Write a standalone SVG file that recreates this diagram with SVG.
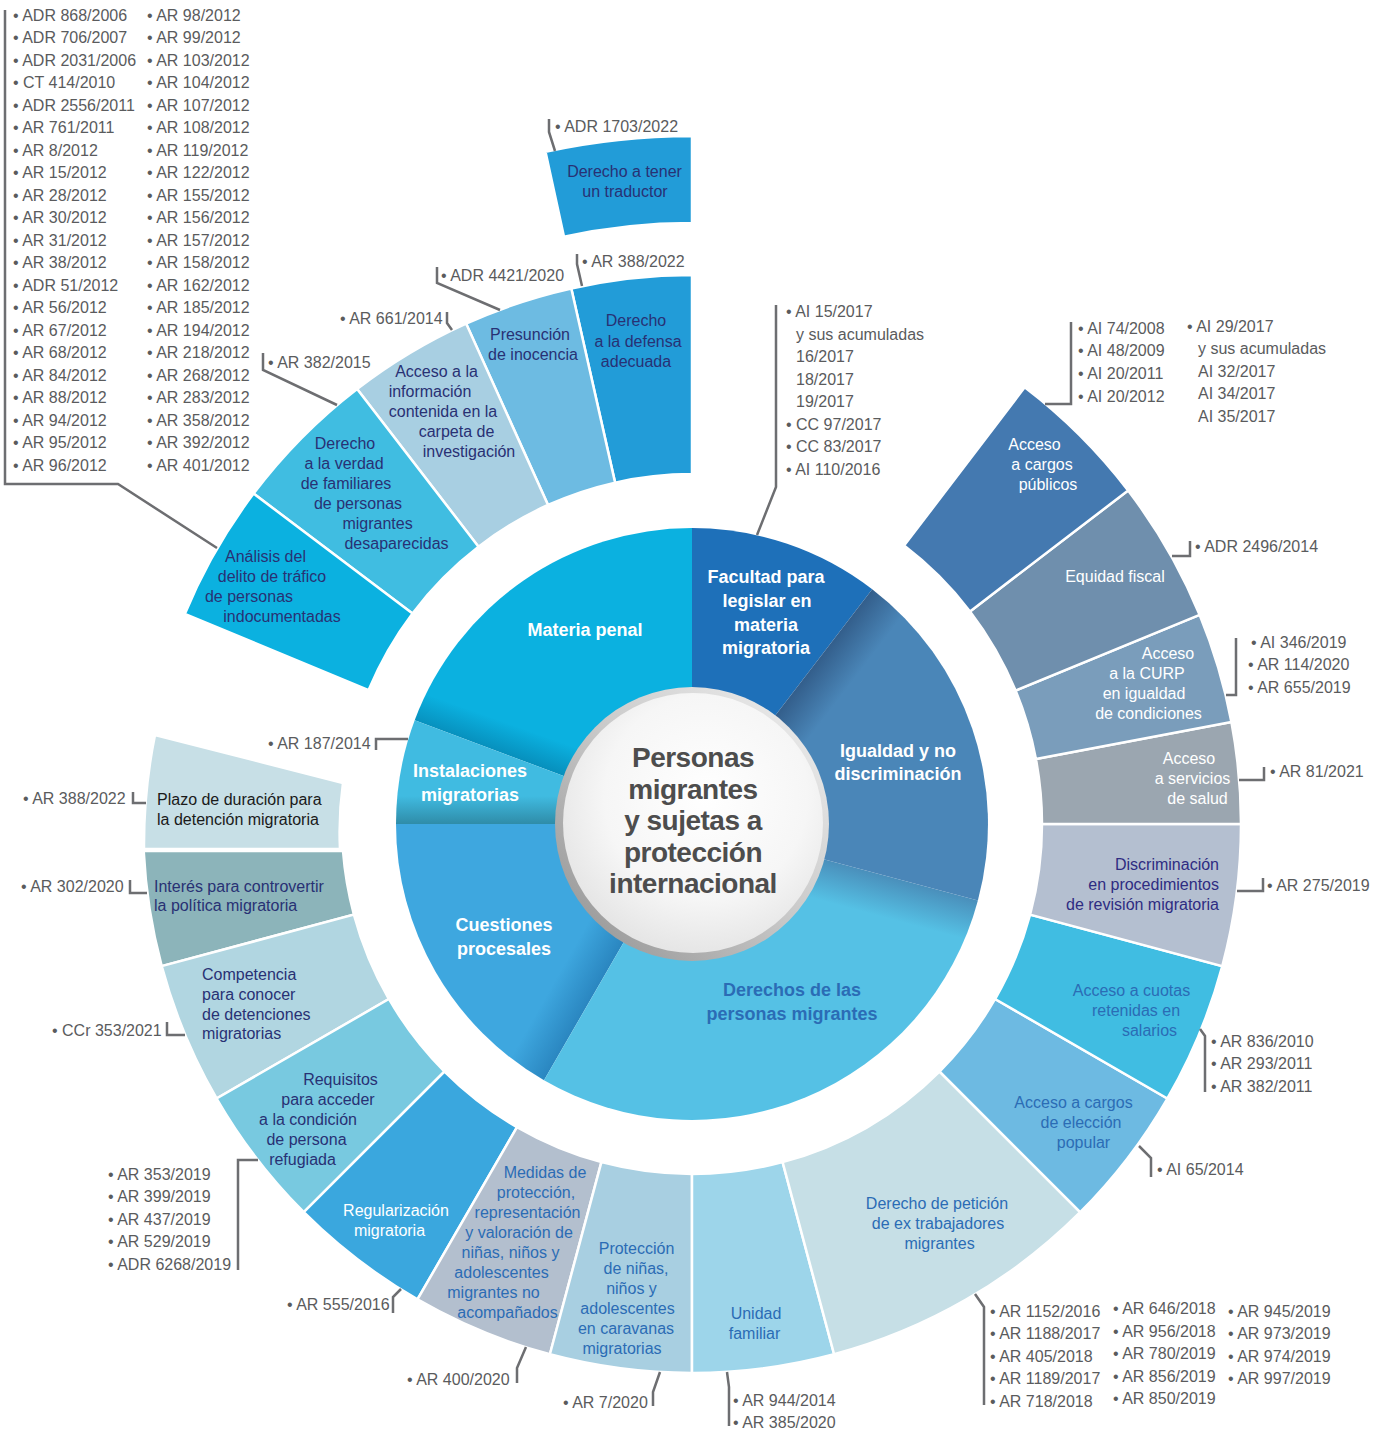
<svg xmlns="http://www.w3.org/2000/svg" width="1373" height="1431" viewBox="0 0 1373 1431">
<style>
.seg{stroke:#fff;stroke-width:2.5}
.lbl{font-family:'Liberation Sans',Arial,sans-serif;font-size:16px;text-anchor:middle}
.lft{font-family:'Liberation Sans',Arial,sans-serif;font-size:16px}
.ref{font-family:'Liberation Sans',Arial,sans-serif;font-size:16px;fill:#5a5b5d}
.in{font-family:'Liberation Sans',Arial,sans-serif;font-size:18px;font-weight:bold;text-anchor:middle;fill:#fff}
.ld{fill:none;stroke:#6d6e71;stroke-width:2.5}
.navy{fill:#283174}.blue{fill:#2b6cb5}.wht{fill:#fff}.ind{fill:#2e2c82}.blk{fill:#1a1a1a}
</style>
<defs>
<linearGradient id="gIg" gradientUnits="userSpaceOnUse" x1="826" y1="649.5" x2="858" y2="674"><stop offset="0" stop-color="#335e8b"/><stop offset="1" stop-color="#4a86b8"/></linearGradient>
<linearGradient id="gDe" gradientUnits="userSpaceOnUse" x1="904.5" y1="881" x2="894" y2="920"><stop offset="0" stop-color="#4a8fbb"/><stop offset="1" stop-color="#55c1e5"/></linearGradient>
<linearGradient id="gCu" gradientUnits="userSpaceOnUse" x1="582" y1="1014.5" x2="547" y2="994.5"><stop offset="0" stop-color="#2a86c0"/><stop offset="1" stop-color="#3ea7df"/></linearGradient>
<linearGradient id="gMa" gradientUnits="userSpaceOnUse" x1="486" y1="747" x2="496" y2="719"><stop offset="0" stop-color="#0790bd"/><stop offset="1" stop-color="#0bb1e0"/></linearGradient>
<linearGradient id="gIn" gradientUnits="userSpaceOnUse" x1="0" y1="824" x2="0" y2="796"><stop offset="0" stop-color="#2f8ca8"/><stop offset="1" stop-color="#40bbe1"/></linearGradient>
<linearGradient id="gRing" x1="0" y1="1" x2="1" y2="0"><stop offset="0" stop-color="#8e8e8e"/><stop offset="0.5" stop-color="#c8c8c8"/><stop offset="1" stop-color="#f2f2f2"/></linearGradient>
<radialGradient id="gDisc" cx="0.55" cy="0.4" r="0.65"><stop offset="0" stop-color="#ffffff"/><stop offset="0.6" stop-color="#f6f6f6"/><stop offset="1" stop-color="#e2e2e2"/></radialGradient>
</defs>
<rect width="1373" height="1431" fill="#fff"/>

<g id="inner-ring">
<g id="n-facultad"><path d="M692 824 L872.2 589.2 A296 296 0 0 0 692 528 Z" fill="#1e70b9"/>
<text class="in"><tspan x="766" y="583.4">Facultad para</tspan><tspan x="767" y="607.4">legislar en</tspan><tspan x="766" y="631.4">materia</tspan><tspan x="766" y="654.4">migratoria</tspan></text></g>
<g id="n-materia"><path d="M692 824 L692 528 A296 296 0 0 0 414.7 720.3 Z" fill="url(#gMa)"/>
<text class="in" x="585" y="636.4">Materia penal</text></g>
<g id="n-instalaciones"><path d="M692 824 L414.7 720.3 A296 296 0 0 0 396 824 Z" fill="url(#gIn)"/>
<text class="in"><tspan x="470" y="777.4">Instalaciones</tspan><tspan x="470" y="801.4">migratorias</tspan></text></g>
<g id="n-cuestiones"><path d="M692 824 L396 824 A296 296 0 0 0 544 1080.3 Z" fill="url(#gCu)"/>
<text class="in"><tspan x="504" y="931.4">Cuestiones</tspan><tspan x="504" y="955.4">procesales</tspan></text></g>
<g id="n-derechos"><path d="M692 824 L544 1080.3 A296 296 0 0 0 977.9 900.6 Z" fill="url(#gDe)"/>
<text class="in" style="fill:#2b6cb5"><tspan x="792" y="996.4">Derechos de las</tspan><tspan x="792" y="1020.4">personas migrantes</tspan></text></g>
<g id="n-igualdad"><path d="M692 824 L977.9 900.6 A296 296 0 0 0 872.2 589.2 Z" fill="url(#gIg)"/>
<text class="in"><tspan x="898" y="757.4">Igualdad y no</tspan><tspan x="898" y="780.4">discriminación</tspan></text></g>
</g>

<g id="n-center">
<circle cx="692" cy="824" r="137" fill="url(#gRing)"/>
<circle cx="693" cy="823" r="130" fill="url(#gDisc)"/>
<text font-family="'Liberation Sans',Arial,sans-serif" font-size="28" font-weight="bold" fill="#4d4d4d" text-anchor="middle" letter-spacing="-0.5"><tspan x="693" y="767">Personas</tspan><tspan x="693" y="799">migrantes</tspan><tspan x="693" y="830">y sujetas a</tspan><tspan x="693" y="862">protección</tspan><tspan x="693" y="893">internacional</tspan></text>
</g>

<g id="outer-ring">
<g id="n-traductor"><path class="seg" d="M692 136 A688 688 0 0 0 545.5 151.8 L564 236.8 A601 601 0 0 1 692 223 Z" fill="#229cd8"/>
<text class="lbl navy"><tspan x="624.5" y="176.7">Derecho a tener</tspan><tspan x="625" y="196.7">un traductor</tspan></text>
<text class="ref" x="555" y="131.7">• ADR 1703/2022</text></g>

<g id="n-defensa"><path class="seg" d="M692 275 A549 549 0 0 0 571.3 288.5 L615.1 482.6 A350 350 0 0 1 692 474 Z" fill="#229cd8"/>
<text class="lbl navy"><tspan x="636" y="325.7">Derecho</tspan><tspan x="638" y="346.7">a la defensa</tspan><tspan x="636" y="366.7">adecuada</tspan></text>
<text class="ref" x="582" y="266.7">• AR 388/2022</text></g>

<g id="n-presuncion"><path class="seg" d="M571.3 288.5 A549 549 0 0 0 466.1 323.6 L548 505 A350 350 0 0 1 615.1 482.6 Z" fill="#6dbbe2"/>
<text class="lbl navy"><tspan x="530" y="339.7">Presunción</tspan><tspan x="533" y="359.7">de inocencia</tspan></text>
<text class="ref" x="441" y="280.7">• ADR 4421/2020</text></g>

<g id="n-acceso-info"><path class="seg" d="M466.1 323.6 A549 549 0 0 0 357.1 389 L478.5 546.7 A350 350 0 0 1 548 505 Z" fill="#a8cfe2"/>
<text class="lbl navy"><tspan x="436.5" y="376.7">Acceso a la</tspan><tspan x="430" y="396.7">información</tspan><tspan x="443" y="416.7">contenida en la</tspan><tspan x="456.5" y="436.7">carpeta de</tspan><tspan x="469" y="456.7">investigación</tspan></text>
<text class="ref" x="340" y="323.7">• AR 661/2014</text></g>

<g id="n-verdad"><path class="seg" d="M357.1 389 A549 549 0 0 0 253.6 493.6 L412.5 613.4 A350 350 0 0 1 478.5 546.7 Z" fill="#40bde1"/>
<text class="lbl navy"><tspan x="345" y="448.7">Derecho</tspan><tspan x="344" y="468.7">a la verdad</tspan><tspan x="346" y="488.7">de familiares</tspan><tspan x="358" y="508.7">de personas</tspan><tspan x="377.5" y="528.7">migrantes</tspan><tspan x="396.5" y="548.7">desaparecidas</tspan></text>
<text class="ref" x="268" y="367.7">• AR 382/2015</text></g>

<g id="n-analisis"><path class="seg" d="M253.6 493.6 A549 549 0 0 0 184.8 613.9 L368.6 690.1 A350 350 0 0 1 412.5 613.4 Z" fill="#0bb1e0"/>
<text class="lbl navy"><tspan x="265.5" y="561.7">Análisis del</tspan><tspan x="272" y="581.7">delito de tráfico</tspan><tspan x="249" y="601.7">de personas</tspan><tspan x="282" y="621.7">indocumentadas</tspan></text>
<text class="ref"><tspan x="13" y="20.7">• ADR 868/2006</tspan><tspan x="13" y="43.2">• ADR 706/2007</tspan><tspan x="13" y="65.7">• ADR 2031/2006</tspan><tspan x="13" y="88.2">• CT 414/2010</tspan><tspan x="13" y="110.7">• ADR 2556/2011</tspan><tspan x="13" y="133.2">• AR 761/2011</tspan><tspan x="13" y="155.7">• AR 8/2012</tspan><tspan x="13" y="178.2">• AR 15/2012</tspan><tspan x="13" y="200.7">• AR 28/2012</tspan><tspan x="13" y="223.2">• AR 30/2012</tspan><tspan x="13" y="245.7">• AR 31/2012</tspan><tspan x="13" y="268.2">• AR 38/2012</tspan><tspan x="13" y="290.7">• ADR 51/2012</tspan><tspan x="13" y="313.2">• AR 56/2012</tspan><tspan x="13" y="335.7">• AR 67/2012</tspan><tspan x="13" y="358.2">• AR 68/2012</tspan><tspan x="13" y="380.7">• AR 84/2012</tspan><tspan x="13" y="403.2">• AR 88/2012</tspan><tspan x="13" y="425.7">• AR 94/2012</tspan><tspan x="13" y="448.2">• AR 95/2012</tspan><tspan x="13" y="470.7">• AR 96/2012</tspan></text>
<text class="ref"><tspan x="147" y="20.7">• AR 98/2012</tspan><tspan x="147" y="43.2">• AR 99/2012</tspan><tspan x="147" y="65.7">• AR 103/2012</tspan><tspan x="147" y="88.2">• AR 104/2012</tspan><tspan x="147" y="110.7">• AR 107/2012</tspan><tspan x="147" y="133.2">• AR 108/2012</tspan><tspan x="147" y="155.7">• AR 119/2012</tspan><tspan x="147" y="178.2">• AR 122/2012</tspan><tspan x="147" y="200.7">• AR 155/2012</tspan><tspan x="147" y="223.2">• AR 156/2012</tspan><tspan x="147" y="245.7">• AR 157/2012</tspan><tspan x="147" y="268.2">• AR 158/2012</tspan><tspan x="147" y="290.7">• AR 162/2012</tspan><tspan x="147" y="313.2">• AR 185/2012</tspan><tspan x="147" y="335.7">• AR 194/2012</tspan><tspan x="147" y="358.2">• AR 218/2012</tspan><tspan x="147" y="380.7">• AR 268/2012</tspan><tspan x="147" y="403.2">• AR 283/2012</tspan><tspan x="147" y="425.7">• AR 358/2012</tspan><tspan x="147" y="448.2">• AR 392/2012</tspan><tspan x="147" y="470.7">• AR 401/2012</tspan></text></g>

<g id="n-plazo"><path class="seg" d="M155 735 A549 549 0 0 0 144 849 L340 849 A352 352 0 0 1 343 783 Z" fill="#c7dfe6"/>
<text class="lft blk"><tspan x="157" y="804.7">Plazo de duración para</tspan><tspan x="157" y="824.7">la detención migratoria</tspan></text>
<text class="ref" x="23" y="803.7">• AR 388/2022</text></g>

<g id="n-interes"><path class="seg" d="M143.7 851 A549 549 0 0 0 161.7 966.1 L353.9 914.6 A350 350 0 0 1 343 851 Z" fill="#8cb4ba"/>
<text class="lft navy"><tspan x="154" y="891.7">Interés para controvertir</tspan><tspan x="154" y="910.7">la política migratoria</tspan></text>
<text class="ref" x="21" y="891.7">• AR 302/2020</text></g>

<g id="n-competencia"><path class="seg" d="M161.7 966.1 A549 549 0 0 0 216.6 1098.5 L388.9 999 A350 350 0 0 1 353.9 914.6 Z" fill="#b1d6e1"/>
<text class="lft navy"><tspan x="202" y="979.7">Competencia</tspan><tspan x="202" y="999.7">para conocer</tspan><tspan x="202" y="1019.7">de detenciones</tspan><tspan x="202" y="1038.7">migratorias</tspan></text>
<text class="ref" x="52" y="1035.7">• CCr 353/2021</text></g>

<g id="n-requisitos"><path class="seg" d="M216.6 1098.5 A549 549 0 0 0 303.8 1212.2 L444.5 1071.5 A350 350 0 0 1 388.9 999 Z" fill="#78c9e0"/>
<text class="lbl navy"><tspan x="340.5" y="1084.7">Requisitos</tspan><tspan x="328" y="1104.7">para acceder</tspan><tspan x="308" y="1124.7">a la condición</tspan><tspan x="306.5" y="1144.7">de persona</tspan><tspan x="302.5" y="1164.7">refugiada</tspan></text>
<text class="ref"><tspan x="108" y="1179.7">• AR 353/2019</tspan><tspan x="108" y="1201.7">• AR 399/2019</tspan><tspan x="108" y="1224.7">• AR 437/2019</tspan><tspan x="108" y="1246.7">• AR 529/2019</tspan><tspan x="108" y="1269.7">• ADR 6268/2019</tspan></text></g>

<g id="n-regularizacion"><path class="seg" d="M303.8 1212.2 A549 549 0 0 0 417.5 1299.4 L517 1127.1 A350 350 0 0 1 444.5 1071.5 Z" fill="#3aa7de"/>
<text class="lbl wht"><tspan x="396" y="1215.7">Regularización</tspan><tspan x="389.5" y="1235.7">migratoria</tspan></text>
<text class="ref" x="287" y="1309.7">• AR 555/2016</text></g>

<g id="n-medidas"><path class="seg" d="M417.5 1299.4 A549 549 0 0 0 549.9 1354.3 L601.4 1162.1 A350 350 0 0 1 517 1127.1 Z" fill="#b3bfce"/>
<text class="lbl blue"><tspan x="545" y="1177.7">Medidas de</tspan><tspan x="536" y="1197.7">protección,</tspan><tspan x="527.5" y="1217.7">representación</tspan><tspan x="519" y="1237.7">y valoración de</tspan><tspan x="510.5" y="1257.7">niñas, niños y</tspan><tspan x="501.5" y="1277.7">adolescentes</tspan><tspan x="493.5" y="1297.7">migrantes no</tspan><tspan x="507.5" y="1317.7">acompañados</tspan></text>
<text class="ref" x="407" y="1384.7">• AR 400/2020</text></g>

<g id="n-caravanas"><path class="seg" d="M549.9 1354.3 A549 549 0 0 0 692 1373 L692 1174 A350 350 0 0 1 601.4 1162.1 Z" fill="#a8cfe1"/>
<text class="lbl blue"><tspan x="636.5" y="1253.7">Protección</tspan><tspan x="636" y="1273.7">de niñas,</tspan><tspan x="631.5" y="1293.7">niños y</tspan><tspan x="627.5" y="1313.7">adolescentes</tspan><tspan x="626" y="1333.7">en caravanas</tspan><tspan x="622" y="1353.7">migratorias</tspan></text>
<text class="ref" x="563" y="1407.7">• AR 7/2020</text></g>

<g id="n-unidad"><path class="seg" d="M692 1373 A549 549 0 0 0 834.1 1354.3 L782.6 1162.1 A350 350 0 0 1 692 1174 Z" fill="#9dd5ea"/>
<text class="lbl blue"><tspan x="756" y="1318.7">Unidad</tspan><tspan x="754.5" y="1338.7">familiar</tspan></text>
<text class="ref"><tspan x="733" y="1405.7">• AR 944/2014</tspan><tspan x="733" y="1427.7">• AR 385/2020</tspan></text></g>

<g id="n-peticion"><path class="seg" d="M834.1 1354.3 A549 549 0 0 0 1080.2 1212.2 L939.5 1071.5 A350 350 0 0 1 782.6 1162.1 Z" fill="#c6dfe6"/>
<text class="lbl blue"><tspan x="937" y="1208.7">Derecho de petición</tspan><tspan x="938" y="1228.7">de ex trabajadores</tspan><tspan x="939.5" y="1248.7">migrantes</tspan></text>
<text class="ref"><tspan x="990" y="1316.7">• AR 1152/2016</tspan><tspan x="990" y="1338.7">• AR 1188/2017</tspan><tspan x="990" y="1361.7">• AR 405/2018</tspan><tspan x="990" y="1383.7">• AR 1189/2017</tspan><tspan x="990" y="1406.7">• AR 718/2018</tspan></text>
<text class="ref"><tspan x="1113" y="1313.7">• AR 646/2018</tspan><tspan x="1113" y="1336.7">• AR 956/2018</tspan><tspan x="1113" y="1358.7">• AR 780/2019</tspan><tspan x="1113" y="1381.7">• AR 856/2019</tspan><tspan x="1113" y="1403.7">• AR 850/2019</tspan></text>
<text class="ref"><tspan x="1228" y="1316.7">• AR 945/2019</tspan><tspan x="1228" y="1338.7">• AR 973/2019</tspan><tspan x="1228" y="1361.7">• AR 974/2019</tspan><tspan x="1228" y="1383.7">• AR 997/2019</tspan></text></g>

<g id="n-eleccion"><path class="seg" d="M1080.2 1212.2 A549 549 0 0 0 1167.4 1098.5 L995.1 999 A350 350 0 0 1 939.5 1071.5 Z" fill="#6dbae2"/>
<text class="lbl blue"><tspan x="1073.5" y="1107.7">Acceso a cargos</tspan><tspan x="1081" y="1127.7">de elección</tspan><tspan x="1083.5" y="1147.7">popular</tspan></text>
<text class="ref" x="1157" y="1174.7">• AI 65/2014</text></g>

<g id="n-cuotas"><path class="seg" d="M1167.4 1098.5 A549 549 0 0 0 1222.3 966.1 L1030.1 914.6 A350 350 0 0 1 995.1 999 Z" fill="#40bde2"/>
<text class="lbl blue"><tspan x="1131.5" y="995.7">Acceso a cuotas</tspan><tspan x="1136" y="1015.7">retenidas en</tspan><tspan x="1149.5" y="1035.7">salarios</tspan></text>
<text class="ref"><tspan x="1211" y="1046.7">• AR 836/2010</tspan><tspan x="1211" y="1068.7">• AR 293/2011</tspan><tspan x="1211" y="1091.7">• AR 382/2011</tspan></text></g>

<g id="n-discriminacion"><path class="seg" d="M1222.3 966.1 A549 549 0 0 0 1241 824 L1042 824 A350 350 0 0 1 1030.1 914.6 Z" fill="#b4bfd0"/>
<text class="lft ind" text-anchor="end"><tspan x="1219" y="869.7">Discriminación</tspan><tspan x="1219" y="889.7">en procedimientos</tspan><tspan x="1219" y="909.7">de revisión migratoria</tspan></text>
<text class="ref" x="1267" y="890.7">• AR 275/2019</text></g>

<g id="n-salud"><path class="seg" d="M1241 824 A549 549 0 0 0 1231.4 722.1 L1035.9 759 A350 350 0 0 1 1042 824 Z" fill="#9ba6b0"/>
<text class="lbl wht"><tspan x="1189" y="764.2">Acceso</tspan><tspan x="1192.5" y="784.3">a servicios</tspan><tspan x="1197.5" y="803.7">de salud</tspan></text>
<text class="ref" x="1270" y="776.7">• AR 81/2021</text></g>

<g id="n-curp"><path class="seg" d="M1231.4 722.1 A549 549 0 0 0 1199.6 614.8 L1015.6 690.6 A350 350 0 0 1 1035.9 759 Z" fill="#7a9dbb"/>
<text class="lbl wht"><tspan x="1168" y="658.7">Acceso</tspan><tspan x="1147" y="678.7">a la CURP</tspan><tspan x="1144" y="698.7">en igualdad</tspan><tspan x="1148.5" y="718.7">de condiciones</tspan></text>
<text class="ref"><tspan x="1251" y="647.7">• AI 346/2019</tspan><tspan x="1248" y="669.7">• AR 114/2020</tspan><tspan x="1248" y="692.7">• AR 655/2019</tspan></text></g>

<g id="n-equidad"><path class="seg" d="M1199.6 614.8 A549 549 0 0 0 1128.1 490.5 L970 611.4 A350 350 0 0 1 1015.6 690.6 Z" fill="#6f8fad"/>
<text class="lbl wht" x="1115" y="581.7">Equidad fiscal</text>
<text class="ref" x="1195" y="551.7">• ADR 2496/2014</text></g>

<g id="n-cargos"><path class="seg" d="M1128.1 490.5 A549 549 0 0 0 1024.7 387.3 L904.1 545.6 A350 350 0 0 1 970 611.4 Z" fill="#4479b0"/>
<text class="lbl wht"><tspan x="1034.5" y="449.7">Acceso</tspan><tspan x="1042" y="469.7">a cargos</tspan><tspan x="1048" y="489.7">públicos</tspan></text>
<text class="ref"><tspan x="1078" y="333.7">• AI 74/2008</tspan><tspan x="1078" y="355.7">• AI 48/2009</tspan><tspan x="1078" y="378.7">• AI 20/2011</tspan><tspan x="1078" y="401.7">• AI 20/2012</tspan></text>
<text class="ref"><tspan x="1187" y="331.7">• AI 29/2017</tspan><tspan x="1198" y="353.7">y sus acumuladas</tspan><tspan x="1198" y="376.7">AI 32/2017</tspan><tspan x="1198" y="398.7">AI 34/2017</tspan><tspan x="1198" y="421.7">AI 35/2017</tspan></text></g>

<g id="refs-facultad">
<text class="ref"><tspan x="786" y="316.7">• AI 15/2017</tspan><tspan x="796" y="339.7">y sus acumuladas</tspan><tspan x="796" y="361.7">16/2017</tspan><tspan x="796" y="384.7">18/2017</tspan><tspan x="796" y="406.7">19/2017</tspan><tspan x="786" y="429.7">• CC 97/2017</tspan><tspan x="786" y="451.7">• CC 83/2017</tspan><tspan x="786" y="474.7">• AI 110/2016</tspan></text>
</g>
<g id="refs-instalaciones"><text class="ref" x="268" y="748.7">• AR 187/2014</text></g>
</g>

<g id="connectors">
<path class="ld" d="M5 10 V484 H118 L217 548"/>
<path class="ld" d="M549 119 V132 L555 151"/>
<path class="ld" d="M577 254 V264 L582 286"/>
<path class="ld" d="M437 267 V283 L500 310"/>
<path class="ld" d="M447 312 V323 L452 330"/>
<path class="ld" d="M263 353 V370 L337 405"/>
<path class="ld" d="M776 305 V487 L757 535"/>
<path class="ld" d="M1071 322 V404 H1045"/>
<path class="ld" d="M1190 541 V556 H1172"/>
<path class="ld" d="M1236 638 V695 H1226"/>
<path class="ld" d="M1264 767 V780 H1239"/>
<path class="ld" d="M1263 878 V891 H1237"/>
<path class="ld" d="M1200 1029 L1205 1036 V1092"/>
<path class="ld" d="M1139 1146 L1151 1158 V1177"/>
<path class="ld" d="M975 1294 L984 1307 V1405"/>
<path class="ld" d="M727 1372 L729 1387 V1426"/>
<path class="ld" d="M660 1372 L653 1392 V1406"/>
<path class="ld" d="M526 1347 L517 1368 V1383"/>
<path class="ld" d="M401 1289 L393 1297 V1313"/>
<path class="ld" d="M258 1160 H238 V1270"/>
<path class="ld" d="M167 1022 V1035 H185"/>
<path class="ld" d="M130 880 V893 H147"/>
<path class="ld" d="M133 792 V803 H146"/>
<path class="ld" d="M376 750 V739 H408"/>
</g>
</svg>
